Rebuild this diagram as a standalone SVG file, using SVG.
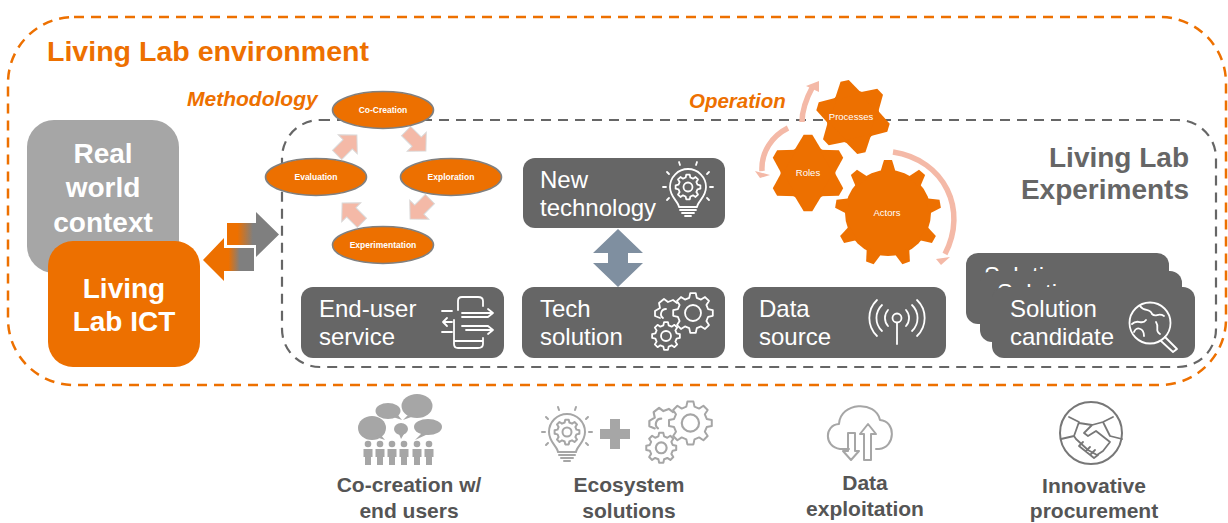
<svg xmlns="http://www.w3.org/2000/svg" xmlns:xlink="http://www.w3.org/1999/xlink" width="1228" height="523" viewBox="0 0 1228 523">
<style>
text{font-family:"Liberation Sans",Arial,sans-serif}
.b{font-weight:700}
.m{text-anchor:middle}
.dark{fill:#666}
.w24{font-size:24px;fill:#fff}
.big{font-size:28px;font-weight:700;fill:#fff;text-anchor:middle}
.ell{fill:#ed7000;stroke:#808080;stroke-width:1.6}
.el{font-size:8.5px;font-weight:700;fill:#fff;text-anchor:middle}
.gl{font-size:9.5px;fill:#fff;text-anchor:middle}
.pk{fill:#f4b9a7;stroke:#d9d9d9;stroke-width:1}
.arc{fill:none;stroke:#f4b9a7;stroke-width:5.5}
.ah{fill:#f4b9a7}
.or{fill:#ed7000}
.lab{font-size:21px;font-weight:700;fill:#555;text-anchor:middle}
.ico{fill:none;stroke:#fff;stroke-width:1.8;stroke-linecap:round;stroke-linejoin:round}
.gry{fill:none;stroke:#a6a6a6;stroke-width:2;stroke-linecap:round;stroke-linejoin:round}
.v{vector-effect:non-scaling-stroke}
.sb{fill:#a6a6a6}
</style>
<defs>
<linearGradient id="gr" x1="0" x2="1" y1="0" y2="0"><stop offset="0.2" stop-color="#ed7000"/><stop offset="0.5" stop-color="#7f7f7f"/></linearGradient>
<linearGradient id="gl" x1="0" x2="1" y1="0" y2="0"><stop offset="0.5" stop-color="#ed7000"/><stop offset="0.72" stop-color="#7f7f7f"/></linearGradient>
<path id="g8" class="v" d="M7.57-1.89 9.9-1.39V1.39L7.57 1.89 6.69 4.02 7.99 6.02 6.02 7.99 4.02 6.69 1.89 7.57 1.39 9.9H-1.39L-1.89 7.57-4.02 6.69-6.02 7.99-7.99 6.02-6.69 4.02-7.57 1.89-9.9 1.39V-1.39L-7.57-1.89-6.69-4.02-7.99-6.02-6.02-7.99-4.02-6.69-1.89-7.57-1.39-9.9H1.39L1.89-7.57 4.02-6.69 6.02-7.99 7.99-6.02 6.69-4.02Z"/>
<path id="tooth" d="M40-8 53-4V4L40 8Z"/>
<path id="tooth6" d="M30-20 53-6V6L30 20Z"/>
<g id="g6">
<circle r="38"/>
<use xlink:href="#tooth6" transform="rotate(0)"/>
<use xlink:href="#tooth6" transform="rotate(60)"/>
<use xlink:href="#tooth6" transform="rotate(120)"/>
<use xlink:href="#tooth6" transform="rotate(180)"/>
<use xlink:href="#tooth6" transform="rotate(240)"/>
<use xlink:href="#tooth6" transform="rotate(300)"/>
</g>
<path id="pa" d="M-14-6.500H1V-13.500L14 0 1 13.500V6.500H-14Z"/>
<g id="p"><circle cy="-11" r="3.300"/><path d="M-4.500-6H4.500V2H3V10H-3V2H-4.500Z"/></g>
<g id="bulb">
<path d="M-9 20C-10 14-18 10-18 0A18 18 0 0 1 18 0C18 10 10 14 9 20Z"/>
<path d="M-8 23H8M-6 26H6M-3 29H3"/>
<use xlink:href="#g8" transform="scale(1.25)"/>
<circle r="4.500"/>
<path d="M-25 0H-22M22 0H25M-21-15-19-13M21-15 19-13M-9-25-8-22M9-25 8-22M-21 13-19 11M21 13 19 11"/>
</g>
<g id="gears">
<use xlink:href="#g8" transform="translate(30 0) scale(2)"/>
<circle cx="30" cy="0" r="8"/>
<use xlink:href="#g8" transform="translate(3 23) scale(1.4)"/>
<circle cx="3" cy="23" r="5"/>
<path d="M14-10 10-13 5-11 1-14-4-10-3-5-8-2-8 3-3 5M3-4A5 5 0 0 0 0 5"/>
</g>
</defs>
<rect width="1228" height="523" fill="#fff"/>

<g id="outer-env">
<rect x="8" y="17" width="1218" height="368" rx="66" fill="none" stroke="#ed7000" stroke-width="2.500" stroke-dasharray="10 7"/>
<text x="47" y="61" class="b" font-size="28.500" fill="#ed7000" textLength="322" lengthAdjust="spacingAndGlyphs">Living Lab environment</text>
</g>
<g id="experiments">
<rect x="282" y="120" width="934" height="247" rx="38" fill="none" stroke="#666" stroke-width="2.200" stroke-dasharray="10 7"/>
<text x="1189" y="167" class="b" font-size="28" fill="#666" text-anchor="end">Living Lab</text>
<text x="1189" y="199" class="b" font-size="28" fill="#666" text-anchor="end">Experiments</text>
</g>

<g id="real-world">
<rect x="27" y="120" width="152" height="153" rx="27" fill="#a6a6a6"/>
<text x="103" y="163" class="big">Real</text>
<text x="103" y="197" class="big">world</text>
<text x="103" y="232" class="big">context</text>
</g>
<g id="living-lab-ict">
<rect x="48" y="241" width="152" height="126" rx="25" fill="#ed7000"/>
<text x="124" y="298" class="big">Living</text>
<text x="124" y="331" class="big">Lab ICT</text>
</g>

<g id="connectors">
<path fill="url(#gr)" d="M227 223H256V212L279 234.500 256 257V245H227Z"/>
<path fill="url(#gl)" d="M203 260 224 238V248H254V271H224V281Z"/>
<path fill="#7f8fa0" d="M618 229 643 253H628V263H643L618 287 593 263H608V253H593Z"/>
<use xlink:href="#pa" class="pk" transform="translate(347 145) rotate(-45)"/>
<use xlink:href="#pa" class="pk" transform="translate(416 141) rotate(45)"/>
<use xlink:href="#pa" class="pk" transform="translate(420 209) rotate(135)"/>
<use xlink:href="#pa" class="pk" transform="translate(352 213) rotate(-135)"/>
<path class="arc" d="M893 152C945 160 968 210 945 254"/>
<path class="ah" d="M936 259 950 257 941 265Z"/>
<path class="arc" d="M788 128C772 136 761 152 762 171"/>
<path class="ah" d="M755 171 770 175 760 178Z"/>
<path class="arc" d="M802 122C802 108 807 97 813 86"/>
<path class="ah" d="M806 86 819 81 819 92Z"/>
</g>

<g id="methodology">
<text x="187" y="106" class="b" font-style="italic" font-size="21" fill="#ed7000">Methodology</text>
</g>
<g id="co-creation"><ellipse class="ell" cx="383" cy="110" rx="50.500" ry="18.500"/><text x="383" y="113" class="el">Co-Creation</text></g>
<g id="evaluation"><ellipse class="ell" cx="316" cy="177" rx="50.500" ry="18.500"/><text x="316" y="180" class="el">Evaluation</text></g>
<g id="exploration"><ellipse class="ell" cx="451" cy="177" rx="50.500" ry="18.500"/><text x="451" y="180" class="el">Exploration</text></g>
<g id="experimentation"><ellipse class="ell" cx="383" cy="245" rx="50.500" ry="18.500"/><text x="383" y="248" class="el">Experimentation</text></g>

<g id="operation">
<text x="689" y="108" class="b" font-style="italic" font-size="20.500" fill="#ed7000">Operation</text>
</g>
<g id="gear-processes">
<use xlink:href="#g6" class="or" transform="translate(853 117) rotate(17) scale(.7)"/>
<text x="851" y="120" class="gl">Processes</text>
</g>
<g id="gear-roles">
<use xlink:href="#g6" class="or" transform="translate(808 173) rotate(90) scale(.72)"/>
<text x="808" y="176" class="gl">Roles</text>
</g>
<g id="gear-actors" class="or">
<circle cx="888" cy="213" r="43"/>
<use xlink:href="#tooth" transform="translate(888 213) rotate(-90)"/>
<use xlink:href="#tooth" transform="translate(888 213) rotate(-50)"/>
<use xlink:href="#tooth" transform="translate(888 213) rotate(-10)"/>
<use xlink:href="#tooth" transform="translate(888 213) rotate(30)"/>
<use xlink:href="#tooth" transform="translate(888 213) rotate(70)"/>
<use xlink:href="#tooth" transform="translate(888 213) rotate(110)"/>
<use xlink:href="#tooth" transform="translate(888 213) rotate(150)"/>
<use xlink:href="#tooth" transform="translate(888 213) rotate(190)"/>
<use xlink:href="#tooth" transform="translate(888 213) rotate(230)"/>
<text x="887" y="216" class="gl">Actors</text>
</g>

<g id="new-technology">
<rect class="dark" x="523" y="158" width="202" height="70" rx="12"/>
<text x="540" y="188" class="w24">New</text>
<text x="540" y="216" class="w24">technology</text>
<use xlink:href="#bulb" class="ico" transform="translate(688 187)"/>
</g>
<g id="end-user-service">
<rect class="dark" x="301" y="287" width="203" height="71" rx="12"/>
<text x="319" y="317" class="w24">End-user</text>
<text x="319" y="345" class="w24">service</text>
<g class="ico">
<path d="M458 310V301Q458 297 462 297H478Q483 297 483 301V306M483 338V344Q483 348 478 348H458Q454 348 454 344V320M454 341H483"/>
<path d="M462 313H491M488 309 493 313 488 317M462 317H488M466 330H491M488 326 493 330 488 334M462 326H488M442 311H452M452 322H444M447 318 443 322 447 326M442 332H452"/>
</g>
</g>
<g id="tech-solution">
<rect class="dark" x="522" y="287" width="203" height="71" rx="12"/>
<text x="540" y="317" class="w24">Tech</text>
<text x="540" y="345" class="w24">solution</text>
<use xlink:href="#gears" class="ico" transform="translate(663 313)"/>
</g>
<g id="data-source">
<rect class="dark" x="743" y="287" width="203" height="71" rx="12"/>
<text x="759" y="317" class="w24">Data</text>
<text x="759" y="345" class="w24">source</text>
<g class="ico">
<circle cx="897" cy="318" r="4.500"/>
<path d="M897 323V344M888 326A12 12 0 0 1 888 310M906 310A12 12 0 0 1 906 326M882 331A18 18 0 0 1 882 305M912 305A18 18 0 0 1 912 331M877 336A25 25 0 0 1 877 300M917 300A25 25 0 0 1 917 336"/>
</g>
</g>
<g id="solution-candidate">
<rect class="dark" x="966" y="253" width="203" height="71" rx="12"/>
<text x="984" y="284" class="w24">Solution</text>
<rect class="dark" x="980" y="271" width="202" height="71" rx="12"/>
<text x="997" y="301" class="w24">Solution</text>
<rect class="dark" x="992" y="287" width="203" height="71" rx="12"/>
<text x="1010" y="317" class="w24">Solution</text>
<text x="1010" y="345" class="w24">candidate</text>
<g class="ico">
<circle cx="1150" cy="323" r="20.500"/>
<path d="M1165 337 1177 349 1173 352 1161 341M1140 306C1144 312 1150 308 1152 314 1156 318 1158 312 1164 316M1132 324C1138 318 1142 326 1146 320M1134 332C1136 326 1144 328 1144 336M1156 322C1160 328 1154 330 1160 334"/>
</g>
</g>

<g id="cocreation-users">
<g class="sb">
<ellipse cx="417" cy="406" rx="15.500" ry="12"/><path d="M408 415 403 420 414 416Z"/>
<ellipse cx="388" cy="411" rx="12.500" ry="8"/><path d="M393 417 402 420 397 414Z"/>
<ellipse cx="372" cy="428" rx="14" ry="12"/><path d="M376 437 385 440 380 434Z"/>
<ellipse cx="428" cy="427" rx="14" ry="8"/><path d="M422 433 415 440 428 434Z"/>
<ellipse cx="401" cy="429" rx="7" ry="6"/><path d="M399 434 401 439 404 434Z"/>
<use xlink:href="#p" x="368" y="455"/>
<use xlink:href="#p" x="380" y="455"/>
<use xlink:href="#p" x="392" y="455"/>
<use xlink:href="#p" x="404" y="455"/>
<use xlink:href="#p" x="417" y="455"/>
<use xlink:href="#p" x="429" y="455"/>
</g>
<text x="409" y="492" class="lab">Co-creation w/</text>
<text x="409" y="518" class="lab">end users</text>
</g>
<g id="ecosystem-solutions">
<use xlink:href="#bulb" class="gry" transform="translate(567 432)"/>
<path class="sb" d="M610 419H620V429H630V439H620V449H610V439H600V429H610Z"/>
<use xlink:href="#gears" class="gry" transform="translate(658 423) scale(1.08)"/>
<text x="629" y="492" class="lab">Ecosystem</text>
<text x="629" y="518" class="lab">solutions</text>
</g>
<g id="data-exploitation">
<path class="gry" d="M849 449H840C824 447 824 425 839 424 840 402 876 400 880 420 896 421 896 447 879 449H876"/>
<path class="gry" d="M848 433H855V451H859L851 460 843 451H848ZM864 449V434H860L868 424 876 434H871V460H864Z" stroke-width="1.600"/>
<text x="865" y="490" class="lab">Data</text>
<text x="865" y="516" class="lab">exploitation</text>
</g>
<g id="innovative-procurement">
<circle cx="1091" cy="433" r="31" fill="none" stroke="#777" stroke-width="2"/>
<g fill="none" stroke="#777" stroke-width="1.800" stroke-linecap="round" stroke-linejoin="round">
<path d="M1069 417 1079 422 1074 436 1061 439M1113 417 1103 422 1110 436 1122 439M1079 423 1092 425 1103 422M1092 425 1084 433 1088 436 1096 431 1110 442 1103 451 1097 455 1088 450 1076 439 1074 436"/>
<path d="M1083 442 1079 446 1094 458 1098 455M1090 447 1086 451M1095 450 1091 454"/>
</g>
<text x="1094" y="493" class="lab">Innovative</text>
<text x="1094" y="518" class="lab">procurement</text>
</g>
</svg>
